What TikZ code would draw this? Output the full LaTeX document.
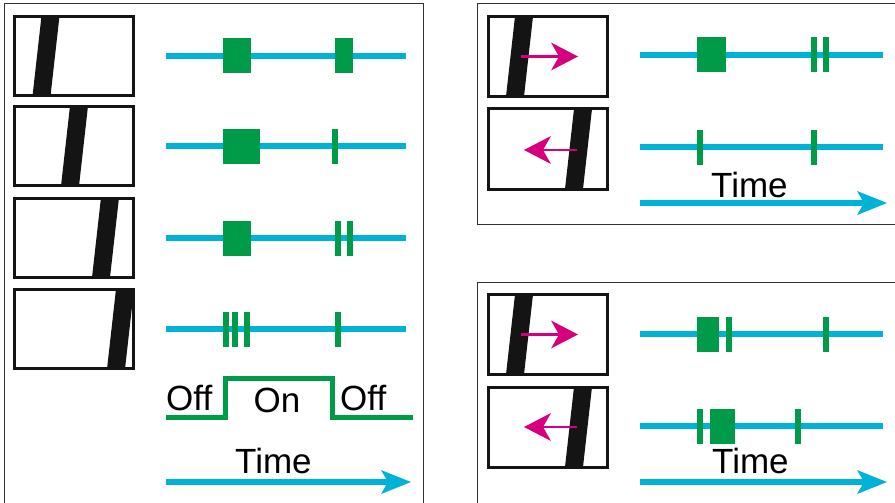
\documentclass[tikz,border=0pt]{standalone}
\usepackage{fontspec}
\setmainfont{Liberation Sans}
\usetikzlibrary{arrows.meta}

\definecolor{lineblue}{RGB}{0,178,216}
\definecolor{spikegreen}{RGB}{0,155,72}
\definecolor{movepink}{RGB}{214,0,124}

% one green spike, #1 = left edge, #2 = track height
\newcommand{\spike}[2]{\fill[spikegreen] (#1,#2-17.5) rectangle ++(6,35);}

\begin{document}
\begin{tikzpicture}[x=1pt, y=-1pt,
  panel/.style={draw=black!80, line width=1pt},
  window/.style={draw=black!92, line width=3pt, minimum width=119pt, minimum height=79pt, inner sep=0pt, outer sep=0pt},
  slab/.style={fill=black!92},
  track/.style={draw=lineblue, line width=6pt},
  onoff/.style={draw=spikegreen, line width=5pt},
  motion/.style={draw=movepink, line width=2.5pt, -{Stealth[length=27pt, width=28pt, inset=8pt, line width=0pt]}},
  timeline/.style={draw=lineblue, line width=6pt, -{Stealth[length=30pt, width=24pt, inset=7pt, line width=0pt]}},
  word/.style={inner sep=0pt, font=\fontsize{35}{42}\selectfont}]

  \useasboundingbox (0,0) rectangle (895,503);

  % Panel frames
  \draw[panel] (4,503) -- (4,4) -- (423,4) -- (423,503);
  \draw[panel] (895,4) -- (477,4) -- (477,224) -- (895,224);
  \draw[panel] (895,282) -- (477,282) -- (477,503);

  % Bars
  \foreach \yc/\xb in {56/41.5, 146/70, 237.5/101, 329/116, 56.5/515, 149/574, 334.5/515, 427/574}
    \fill[slab] (\xb-9,\yc+40) -- (\xb+9,\yc+40) -- (\xb+18,\yc-40) -- (\xb,\yc-40) -- cycle;

  % Left windows
  \node[window] (winL1) at (74,56) {};
  \node[window] (winL2) at (74,146) {};
  \node[window] (winL3) at (74,237.5) {};
  \node[window] (winL4) at (74,329) {};

  % Right windows
  \node[window, minimum height=80pt] (winA) at (548,56.5) {};
  \node[window, minimum height=80pt] (winB) at (548,149) {};
  \node[window, minimum height=80pt] (winC) at (548,334.5) {};
  \node[window, minimum height=80pt] (winD) at (548,427) {};

  % Motion arrows
  \draw[motion] ([xshift=-27pt]winA.center) -- ([xshift=30pt]winA.center);
  \draw[motion] ([xshift=29pt, yshift=-1pt]winB.center) -- ([xshift=-24pt, yshift=-1pt]winB.center);
  \draw[motion] ([xshift=-27pt]winC.center) -- ([xshift=30pt]winC.center);
  \draw[motion] ([xshift=29pt]winD.center) -- ([xshift=-24pt]winD.center);

  % Tracks
  \foreach \yt in {56,146,238,329}
    \draw[track] (166,\yt) -- (406,\yt);
  \foreach \yt in {55,147,334,426}
    \draw[track] (640,\yt) -- (883,\yt);

  % Spikes
  \foreach \x in {223,228,234,240,245,335,341,347} \spike{\x}{56};
  \foreach \x in {223,229,235,241,247,253,254,332} \spike{\x}{146};
  \foreach \x in {223,228,234,240,245,335,347} \spike{\x}{238};
  \foreach \x in {223,232,244,335} \spike{\x}{329};
  \foreach \x in {697,703,709,715,720,811,823} \spike{\x}{55};
  \foreach \x in {697,811} \spike{\x}{147};
  \foreach \x in {697,703,709,713,726,823} \spike{\x}{334};
  \foreach \x in {697,710,716,722,728,729,795} \spike{\x}{426};

  % Stimulus on/off
  \draw[onoff] (166,417) -- (225,417) -- (225,378) -- (332,378) -- (332,417) -- (413,417);
  \node[word, anchor=base west] (offA) at (166,410) {Off};
  \node[word, anchor=base] (onA) at (277,412) {On};
  \node[word, anchor=base west] (offB) at (340,410) {Off};

  % Time axes
  \draw[timeline] (166,482) -- (411,482);
  \draw[timeline] (640,203) -- (887,203);
  \draw[timeline] (640,482) -- (887,482);
  \node[word, anchor=base west] (timeL) at (235,473) {Time};
  \node[word, anchor=base west] (timeA) at (711,197) {Time};
  \node[word, anchor=base west] (timeC) at (712,473) {Time};

\end{tikzpicture}
\end{document}
